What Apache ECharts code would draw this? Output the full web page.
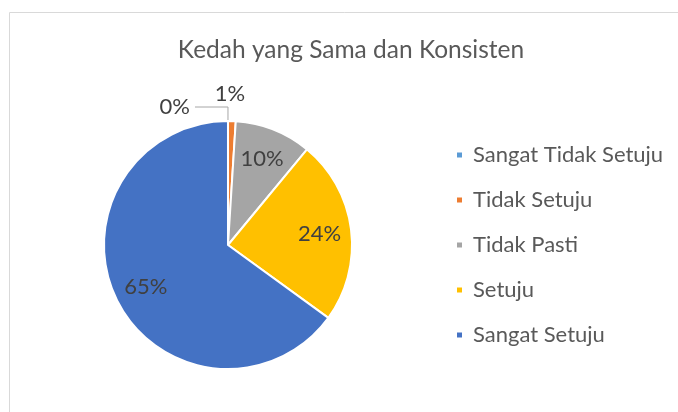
<!DOCTYPE html>
<html><head><meta charset="utf-8">
<script src="https://cdn.jsdelivr.net/npm/echarts@6/dist/echarts.min.js"></script>
<style>html,body{margin:0;padding:0;background:#fff}#c{width:678px;height:412px}</style>
</head><body><div id="c"></div>
<script>
const categories = ['Sangat Tidak Setuju', 'Tidak Setuju', 'Tidak Pasti', 'Setuju', 'Sangat Setuju'];
const values = [0, 1, 10, 24, 65];
const colors = ['#5B9BD5', '#ED7D31', '#A5A5A5', '#FFC000', '#4472C4'];
const titleText = 'Kedah yang Sama dan Konsisten';

const FONT = 'Lato';
const chart = echarts.init(document.getElementById('c'));
const center = [228, 245];
const R = 124;
const outsideIdx = [0, 1];

const mainData = categories.map((n, i) => {
  const d = { name: n, value: values[i], itemStyle: { color: colors[i] } };
  if (i === 0) {
    d.label = { show: true, position: 'outside' };
    d.labelLine = { show: true, length: 14, length2: 33 };
  } else if (i === 1) {
    d.label = { show: true, position: 'outside' };
    d.labelLine = { show: false, length: 27, length2: 0 };
  } else {
    d.label = { show: false };
    d.labelLine = { show: false };
  }
  return d;
});
const overlayData = categories.map((n, i) => ({
  name: n, value: values[i],
  itemStyle: { color: 'rgba(0,0,0,0)', borderWidth: 0 },
  label: { show: outsideIdx.indexOf(i) < 0 }
}));

chart.setOption({
  animation: false,
  color: colors,
  graphic: [{
    type: 'rect', shape: { x: 9.5, y: 12.5, width: 720, height: 440 },
    style: { fill: 'none', stroke: '#d9d9d9', lineWidth: 1 }, silent: true
  }],
  title: {
    text: titleText, left: 351, top: 35, textAlign: 'center', padding: 0,
    textStyle: { fontFamily: FONT, fontSize: 24.5, fontWeight: 'normal', color: '#595959', lineHeight: 30 }
  },
  legend: {
    orient: 'vertical', left: 455, top: 142, padding: 0, itemWidth: 7, itemHeight: 7, itemGap: 19,
    icon: 'rect', data: categories,
    textStyle: { fontFamily: FONT, fontSize: 22, color: '#595959', lineHeight: 26, padding: [0, 0, 0, 5] }
  },
  series: [{
    type: 'pie', center: center, radius: R, startAngle: 90.01, clockwise: true,
    percentPrecision: 0, avoidLabelOverlap: false,
    itemStyle: { borderColor: '#fff', borderWidth: 2 },
    label: { formatter: '{d}%', fontFamily: FONT, fontSize: 22, color: '#404040' },
    labelLine: { lineStyle: { color: '#a6a6a6', width: 1 }, smooth: false },
    labelLayout: function (p) { return p.dataIndex === 1 ? { dx: -23 } : {}; },
    emphasis: { disabled: true },
    data: mainData
  }, {
    type: 'pie', center: center, radius: [R * 0.44, R], startAngle: 90.01, clockwise: true,
    percentPrecision: 0, silent: true,
    label: { position: 'inside', formatter: '{d}%', fontFamily: FONT, fontSize: 22, color: '#404040' },
    labelLine: { show: false },
    emphasis: { disabled: true },
    data: overlayData
  }]
});
</script></body></html>
